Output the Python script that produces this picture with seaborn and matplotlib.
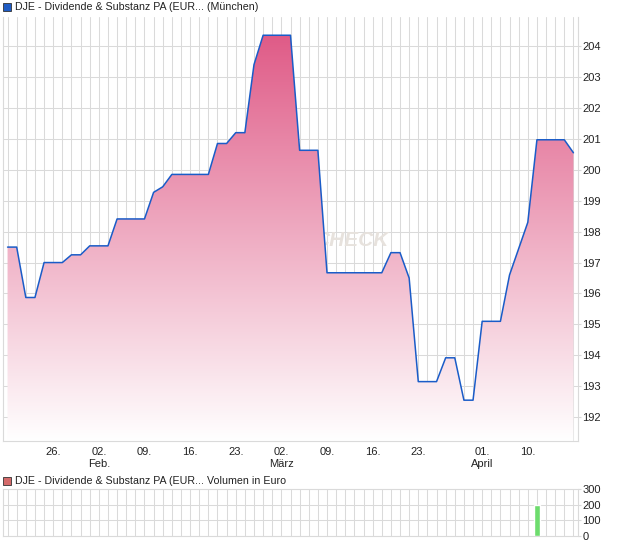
import matplotlib
matplotlib.use('Agg')
import matplotlib.pyplot as plt
from matplotlib.patches import Polygon, Rectangle
from matplotlib.colors import LinearSegmentedColormap
import numpy as np
import pandas as pd
import seaborn as sns

# trading days (Munich), Good Friday and Easter Monday closed
holidays = ['2026-04-03', '2026-04-06']
dates = pd.bdate_range('2026-01-19', '2026-04-17')
dates = dates[~dates.isin(pd.to_datetime(holidays))]

# closing prices
prices = [197.5, 197.5, 195.87, 195.87, 197.0, 197.0, 197.0, 197.25, 197.25, 197.54,
          197.54, 197.54, 198.41, 198.41, 198.41, 198.41, 199.27, 199.45, 199.85, 199.85,
          199.85, 199.85, 199.85, 200.85, 200.85, 201.2, 201.2, 203.4, 204.35, 204.35,
          204.35, 204.35, 200.63, 200.63, 200.63, 196.67, 196.67, 196.67, 196.67, 196.67,
          196.67, 196.67, 197.32, 197.32, 196.5, 193.15, 193.15, 193.15, 193.92, 193.92,
          192.55, 192.55, 195.1, 195.1, 195.1, 196.6, 197.45, 198.3, 200.97, 200.97,
          200.97, 200.97, 200.55]

# volume (EUR)
vol_dates = ['2026-04-13']
vol_values = [200]

tick_dates = ['2026-01-26', '2026-02-02', '2026-02-09', '2026-02-16', '2026-02-23',
              '2026-03-02', '2026-03-09', '2026-03-16', '2026-03-23', '2026-04-01',
              '2026-04-10']
tick_labels = ['26.', '02.\nFeb.', '09.', '16.', '23.', '02.\nMärz', '09.', '16.',
               '23.', '01.\nApril', '10.']
price_ticks = [192, 193, 194, 195, 196, 197, 198, 199, 200, 201, 202, 203, 204]
vol_ticks = [0, 100, 200, 300]

title_main = 'DJE - Dividende & Substanz PA (EUR... (München)'
title_vol = 'DJE - Dividende & Substanz PA (EUR... Volumen in Euro'

sns.set_style('white')
plt.rcParams['font.family'] = ['Liberation Sans', 'DejaVu Sans']

df = pd.DataFrame({'date': dates, 'price': prices})
df['i'] = np.arange(len(df))
pos = {d: i for i, d in enumerate(df['date'])}

grid_c = '#dadada'
line_c = '#1a5cc8'
fig = plt.figure(figsize=(6.2, 5.46), dpi=100)

ax = fig.add_axes([3 / 620, 1 - 441 / 546, 575 / 620, 424 / 546])
ymin, ymax = 191.23, 204.94
xmin, xmax = -0.5, len(df) - 0.5

# watermark under the fill
ax.text(41.8, 197.72, 'CHECK', color='#e7e2dd', fontsize=15, fontweight='bold',
        fontstyle='italic', ha='right', va='center', zorder=1)

# gradient fill clipped to the area under the line
cmap = LinearSegmentedColormap.from_list('pk', ['#ffffff', '#de5482'])
grad = np.linspace(0, 1, 256).reshape(-1, 1)
im = ax.imshow(grad, cmap=cmap, extent=[xmin, xmax, ymin, ymax], origin='lower',
               aspect='auto', zorder=2, interpolation='bilinear')
verts = [(df['i'].iloc[0], ymin)] + list(zip(df['i'], df['price'])) + [(df['i'].iloc[-1], ymin)]
poly = Polygon(verts, closed=True, facecolor='none', edgecolor='none')
ax.add_patch(poly)
im.set_clip_path(poly)

sns.lineplot(data=df, x='i', y='price', ax=ax, color=line_c, linewidth=1.1, zorder=3)

ax.set_xlim(xmin, xmax)
ax.set_ylim(ymin, ymax)
ax.set_xticks(df['i'], minor=True)
ax.set_xticks([pos[pd.Timestamp(d)] for d in tick_dates])
ax.set_xticklabels(tick_labels, fontsize=8, color='#222222', linespacing=1.25)
ax.set_yticks(price_ticks)
ax.set_yticklabels([str(t) for t in price_ticks], fontsize=8, color='#222222')
ax.yaxis.tick_right()
ax.grid(True, which='both', color=grid_c, linewidth=0.75, zorder=0)
ax.set_axisbelow(True)
ax.tick_params(axis='x', which='both', length=2.5, color=grid_c, pad=2)
ax.tick_params(axis='y', length=2, color=grid_c, pad=1)
ax.set_xlabel('')
ax.set_ylabel('')
for s in ['left', 'bottom', 'right']:
    ax.spines[s].set_color(grid_c)
    ax.spines[s].set_linewidth(0.8)
ax.spines['top'].set_visible(False)

# volume panel
ax2 = fig.add_axes([3 / 620, 1 - 536 / 546, 575 / 620, 47 / 546])
vdf = pd.DataFrame({'i': [pos[pd.Timestamp(d)] for d in vol_dates], 'vol': vol_values})
sns.barplot(data=vdf, x='i', y='vol', ax=ax2, native_scale=True, color='#6ddc6d',
            saturation=1, width=0.65, zorder=3)
ax2.set_xlim(xmin, xmax)
ax2.set_ylim(0, 300)
ax2.set_xticks(df['i'])
ax2.set_xticklabels([])
ax2.tick_params(axis='x', length=0)
ax2.set_yticks(vol_ticks)
ax2.set_yticklabels([str(t) for t in vol_ticks], fontsize=8, color='#222222')
ax2.yaxis.tick_right()
ax2.tick_params(axis='y', length=2, color=grid_c, pad=1)
ax2.grid(True, color=grid_c, linewidth=0.75, zorder=0)
ax2.set_axisbelow(True)
ax2.set_xlabel('')
ax2.set_ylabel('')
for s in ax2.spines.values():
    s.set_color(grid_c)
    s.set_linewidth(0.8)

# legend headers
fig.patches.append(Rectangle((3 / 620, 1 - 11 / 546), 8 / 620, 8 / 546,
                             transform=fig.transFigure, facecolor='#1f5cc4',
                             edgecolor='#333333', linewidth=0.6))
fig.text(15 / 620, 1 - 7 / 546, title_main, fontsize=7.65, color='#222222', va='center')
fig.patches.append(Rectangle((3 / 620, 1 - 485 / 546), 8 / 620, 8 / 546,
                             transform=fig.transFigure, facecolor='#d46a6a',
                             edgecolor='#333333', linewidth=0.6))
fig.text(15 / 620, 1 - 481 / 546, title_vol, fontsize=7.65, color='#222222', va='center')

fig.savefig('out.png', dpi=100)
